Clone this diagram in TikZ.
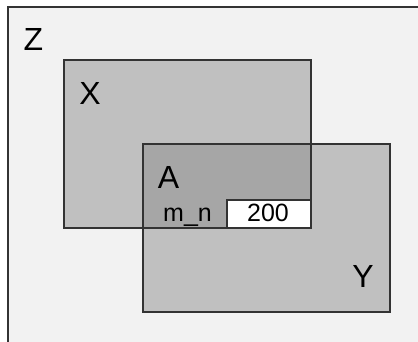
\documentclass[tikz,border=0pt]{standalone}
\usepackage{fontspec}
\setmainfont{Liberation Sans}
\definecolor{zfill}{HTML}{F2F2F2}
\definecolor{setfill}{HTML}{C0C0C0}
\definecolor{overfill}{HTML}{A6A6A6}
\definecolor{edge}{HTML}{333333}
\tikzset{
  setline/.style={draw=edge, line width=1.4pt},
  biglabel/.style={anchor=base, inner sep=0pt, font=\fontsize{32}{32}\selectfont},
  smalllabel/.style={anchor=base, inner sep=0pt, font=\fontsize{25}{25}\selectfont},
}
\begin{document}
\begin{tikzpicture}[x=1pt,y=-1pt]
\useasboundingbox (0,0) rectangle (418,341);
\clip (0,0) rectangle (418,341);
% fills
\fill[zfill] (8,7) rectangle (430,350);
\fill[setfill] (64,60) rectangle (311,228);
\fill[setfill] (143,144) rectangle (390,312);
\fill[overfill] (143,144) rectangle (311,228);
\fill[white] (227,200) rectangle (311,228);
% borders
\draw[setline] (8,360) -- (8,7) -- (430,7);
\draw[setline] (64,60) rectangle (311,228);
\draw[setline] (143,144) rectangle (390,312);
\draw[setline] (227,200) rectangle (311,228);
% labels
\node[biglabel] (z) at (33.5,50) {Z};
\node[biglabel] (x) at (90,104) {X};
\node[biglabel] (a) at (168.5,188) {A};
\node[biglabel] (y) at (363,287) {Y};
\node[smalllabel] (mn) at (187.5,221) {m\_n};
\node[smalllabel] (v) at (268,221) {200};
\end{tikzpicture}
\end{document}
